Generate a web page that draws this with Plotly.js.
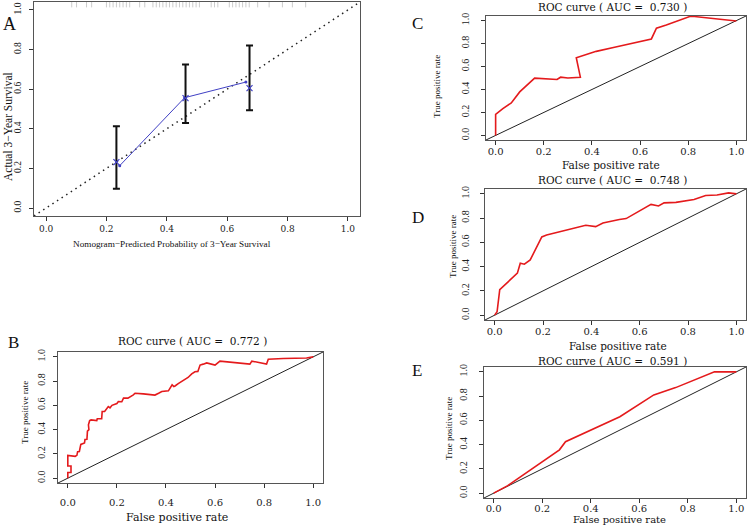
<!DOCTYPE html>
<html>
<head>
<meta charset="utf-8">
<script src="https://cdn.plot.ly/plotly-3.0.1.min.js"></script>
<style>html,body{margin:0;padding:0;background:#fff;}#chart{width:748px;height:525px;}</style>
</head>
<body>
<div id="chart"></div>
<script>
// ---------- data ----------
const tickVals = [0, 0.2, 0.4, 0.6, 0.8, 1.0];
const tickText = ["0.0", "0.2", "0.4", "0.6", "0.8", "1.0"];
const axisRange = [-0.04, 1.04];

// Panel A: calibration
const calPred  = [0.233, 0.462, 0.674];
const calObs   = [0.232, 0.555, 0.605];
const calLower = [0.098, 0.429, 0.494];
const calUpper = [0.413, 0.725, 0.821];
const calLineX = [0.244, 0.459, 0.662];
const calLineY = [0.214, 0.557, 0.636];
const rugPred  = [0.085, 0.101, 0.134, 0.151, 0.2, 0.211, 0.222, 0.233, 0.244, 0.255, 0.266, 0.277,
                  0.31, 0.327, 0.354, 0.365, 0.376, 0.387, 0.398, 0.409, 0.42, 0.431, 0.442, 0.453,
                  0.464, 0.475, 0.486, 0.497, 0.508, 0.547, 0.558, 0.569, 0.607, 0.618, 0.629, 0.64,
                  0.651, 0.662, 0.673, 0.701, 0.739, 0.783, 0.816, 0.86];

// Panel B: ROC (AUC 0.772)
const bFpr = [0, 0, 0.013, 0.013, 0, 0, 0.03, 0.037, 0.04, 0.047, 0.053, 0.068, 0.07, 0.078, 0.08, 0.086, 0.084,
              0.089, 0.095, 0.118, 0.12, 0.138, 0.14, 0.15, 0.165, 0.172, 0.18, 0.193, 0.2, 0.206, 0.22, 0.227,
              0.245, 0.267, 0.274, 0.308, 0.355, 0.37, 0.383, 0.41, 0.417, 0.425, 0.432, 0.437, 0.45, 0.465,
              0.478, 0.49, 0.505, 0.518, 0.53, 0.539, 0.552, 0.566, 0.6, 0.62, 0.742, 0.75, 0.81, 0.817, 0.878,
              0.973, 1.0];
const bTpr = [0, 0.047, 0.047, 0.10, 0.10, 0.188, 0.18, 0.188, 0.218, 0.22, 0.278, 0.29, 0.319, 0.32, 0.387, 0.40,
              0.44, 0.474, 0.48, 0.474, 0.49, 0.49, 0.55, 0.55, 0.59, 0.58, 0.60, 0.61, 0.615, 0.632, 0.63, 0.66,
              0.66, 0.687, 0.70, 0.695, 0.685, 0.70, 0.714, 0.72, 0.747, 0.77, 0.755, 0.76, 0.78, 0.80, 0.82, 0.83,
              0.86, 0.877, 0.88, 0.932, 0.94, 0.95, 0.932, 0.965, 0.94, 0.965, 0.94, 0.98, 0.987, 0.99, 1.0];

// Panel C: ROC (AUC 0.730)
const cFpr = [0, 0, 0.03, 0.065, 0.1, 0.162, 0.255, 0.27, 0.3, 0.352, 0.335, 0.418, 0.494, 0.647, 0.668, 0.709, 0.806, 0.826, 1.0];
const cTpr = [0, 0.184, 0.233, 0.283, 0.379, 0.499, 0.487, 0.507, 0.5, 0.507, 0.677, 0.732, 0.767, 0.84, 0.934, 0.962, 1.035, 1.035, 0.997];

// Panel D: ROC (AUC 0.748)
const dFpr = [0, 0.01, 0.021, 0.094, 0.106, 0.123, 0.147, 0.195, 0.215, 0.377, 0.418, 0.448, 0.516, 0.544, 0.647, 0.678, 0.701, 0.75, 0.825, 0.873, 0.92, 0.968, 1.0];
const dTpr = [0, 0.028, 0.21, 0.346, 0.428, 0.42, 0.455, 0.645, 0.66, 0.741, 0.73, 0.76, 0.788, 0.796, 0.913, 0.90, 0.926, 0.93, 0.953, 0.986, 0.99, 1.008, 1.0];

// Panel E: ROC (AUC 0.591)
const eFpr = [0, 0.058, 0.271, 0.296, 0.52, 0.66, 0.75, 0.91, 1.0];
const eTpr = [0, 0.062, 0.357, 0.424, 0.63, 0.81, 0.87, 1.0, 1.0];

const aucB = "0.772", aucC = "0.730", aucD = "0.748", aucE = "0.591";

// ---------- layout helpers ----------
const W = 748, H = 525;
const fx = v => v / W;
const fy = v => 1 - v / H;
const SERIF = "Liberation Serif, Times New Roman, serif";
const WIDE = "DejaVu Serif, serif";

const boxes = {
  A: {x0: 34, x1: 360, y0: 2, y1: 216},
  B: {x0: 58, x1: 323, y0: 352, y1: 483},
  C: {x0: 486, x1: 746, y0: 16, y1: 140},
  D: {x0: 485, x1: 746, y0: 189, y1: 320},
  E: {x0: 484, x1: 746, y0: 367, y1: 498}
};

function axis(b, isY, anchor, family, fsize, standoff) {
  return {
    domain: isY ? [fy(b.y1), fy(b.y0)] : [fx(b.x0), fx(b.x1)],
    range: axisRange, anchor: anchor,
    tickmode: "array", tickvals: tickVals, ticktext: tickText,
    ticks: "outside", ticklen: 4, tickwidth: 1, tickcolor: "#333",
    showline: true, mirror: true, linecolor: "#555", linewidth: 1,
    showgrid: false, zeroline: false,
    tickangle: isY ? -90 : 0,
    ticklabelstandoff: standoff,
    tickfont: {family: family, size: fsize, color: "#222"}
  };
}

function ann(text, x, y, family, size, angle) {
  return {
    text: text, xref: "paper", yref: "paper", x: fx(x), y: fy(y),
    xanchor: "center", yanchor: "middle", showarrow: false, textangle: angle || 0,
    font: {family: family, size: size, color: "#111"}
  };
}

const red = "#e41a1c";
const blue = "#4040c4";
const traces = [];

// Panel A
traces.push({x: axisRange, y: axisRange, xaxis: "x", yaxis: "y", mode: "lines",
  line: {color: "#222", width: 1.5, dash: "1.5px,4px"}, hoverinfo: "skip"});
traces.push({x: rugPred, y: rugPred.map(() => 1.027), xaxis: "x", yaxis: "y", mode: "markers",
  marker: {symbol: "line-ns", size: 4, color: "#cccccc", line: {color: "#cccccc", width: 1}}, hoverinfo: "skip"});
traces.push({x: calLineX, y: calLineY, xaxis: "x", yaxis: "y", mode: "lines+markers",
  line: {color: blue, width: 1}, marker: {size: 3, color: blue}});
traces.push({x: calPred, y: calObs, xaxis: "x", yaxis: "y", mode: "markers",
  marker: {symbol: "x-thin-open", size: 6, color: blue, line: {color: blue, width: 1.2}},
  error_y: {type: "data", symmetric: false,
    array: calUpper.map((u, i) => u - calObs[i]),
    arrayminus: calLower.map((l, i) => calObs[i] - l),
    color: "#111", thickness: 2, width: 3.5}});

// ROC panels
const rocs = [
  {fpr: bFpr, tpr: bTpr, xa: "x2", ya: "y2"},
  {fpr: cFpr, tpr: cTpr, xa: "x3", ya: "y3"},
  {fpr: dFpr, tpr: dTpr, xa: "x4", ya: "y4"},
  {fpr: eFpr, tpr: eTpr, xa: "x5", ya: "y5"}
];
rocs.forEach(r => {
  traces.push({x: axisRange, y: axisRange, xaxis: r.xa, yaxis: r.ya, mode: "lines",
    line: {color: "#222", width: 1}, hoverinfo: "skip"});
  traces.push({x: r.fpr, y: r.tpr, xaxis: r.xa, yaxis: r.ya, mode: "lines",
    line: {color: red, width: 1.6}});
});

const layout = {
  width: W, height: H, margin: {l: 0, r: 0, t: 0, b: 0},
  paper_bgcolor: "#fff", plot_bgcolor: "#fff", showlegend: false,
  xaxis:  axis(boxes.A, false, "y", WIDE, 9, 0),
  yaxis:  axis(boxes.A, true, "x", SERIF, 9.5, 4),
  xaxis2: axis(boxes.B, false, "y2", WIDE, 10, 6),
  yaxis2: axis(boxes.B, true, "x2", SERIF, 10, 4),
  xaxis3: axis(boxes.C, false, "y3", WIDE, 10, -2),
  yaxis3: axis(boxes.C, true, "x3", SERIF, 10, 8),
  xaxis4: axis(boxes.D, false, "y4", WIDE, 10, -2),
  yaxis4: axis(boxes.D, true, "x4", SERIF, 10, 7),
  xaxis5: axis(boxes.E, false, "y5", WIDE, 10, -3),
  yaxis5: axis(boxes.E, true, "x5", SERIF, 10, 8),
  annotations: [
    ann("A", 9, 24, SERIF, 18),
    ann("Actual 3\u2212Year Survival", 8, 127, SERIF, 11.5, -90),
    ann("Nomogram\u2212Predicted Probability of 3\u2212Year Survival", 172, 244, SERIF, 9.2),

    ann("B", 14, 342, SERIF, 17),
    ann("ROC curve ( AUC =  " + aucB + " )", 193, 341, WIDE, 10.5),
    ann("False positive rate", 177, 517, WIDE, 11),
    ann("True positive rate", 25, 413, SERIF, 9, -90),

    ann("C", 417, 24, SERIF, 17),
    ann("ROC curve ( AUC =  " + aucC + " )", 612, 7, WIDE, 10.5),
    ann("False positive rate", 611, 165, WIDE, 10.5),
    ann("True positive rate", 437, 87, SERIF, 9, -90),

    ann("D", 418, 218, SERIF, 17),
    ann("ROC curve ( AUC =  " + aucD + " )", 612, 180, WIDE, 10.5),
    ann("False positive rate", 618, 346, WIDE, 10.5),
    ann("True positive rate", 453, 247, SERIF, 9, -90),

    ann("E", 417, 370, SERIF, 17),
    ann("ROC curve ( AUC =  " + aucE + " )", 612, 361, WIDE, 10.5),
    ann("False positive rate", 619, 519, WIDE, 10),
    ann("True positive rate", 449, 428, SERIF, 9, -90)
  ]
};

Plotly.newPlot("chart", traces, layout, {staticPlot: true, displayModeBar: false});
</script>
</body>
</html>
